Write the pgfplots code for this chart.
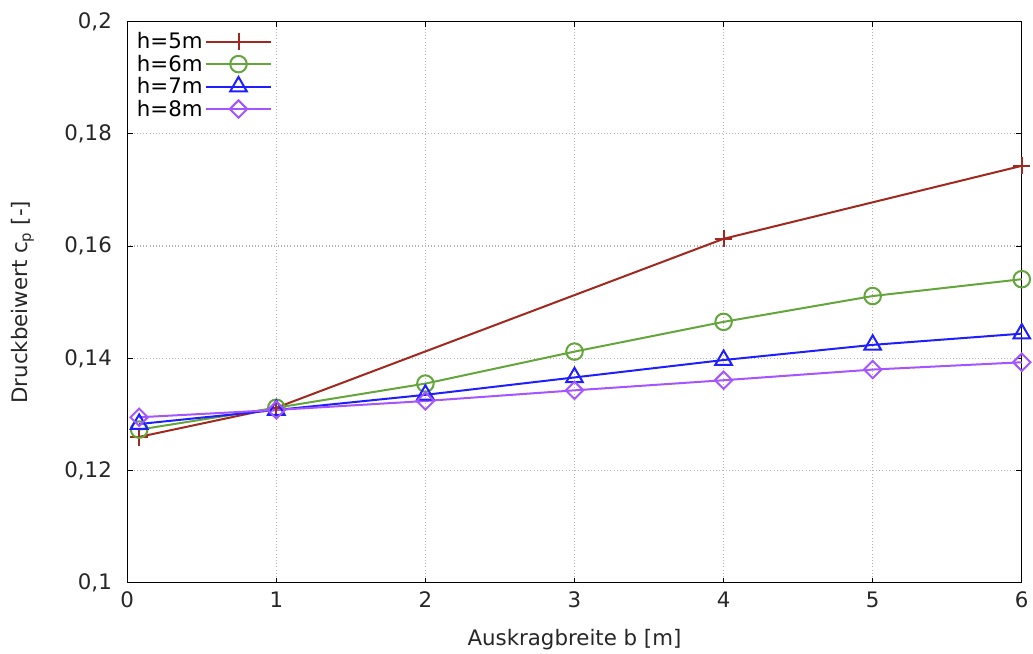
\documentclass[border=0pt]{standalone}
\usepackage{pgfplots}
\pgfplotsset{compat=1.18}
\usepackage{fontspec}
\setmainfont{DejaVu Sans}
\definecolor{c5}{RGB}{160,40,30}
\definecolor{c6}{RGB}{100,165,60}
\definecolor{c7}{RGB}{30,30,255}
\definecolor{c8}{RGB}{165,85,255}
\begin{document}
\begin{tikzpicture}
\begin{axis}[
  scale only axis,
  width=671pt, height=421pt,
  xmin=0, xmax=6, ymin=0.1, ymax=0.2,
  xtick={0,1,2,3,4,5,6},
  ytick={0.1,0.12,0.14,0.16,0.18,0.2},
  /pgf/number format/use comma,
  /pgf/number format/assume math mode=true,
  tick label style={font=\fontsize{16}{19}\selectfont, text=black!85},
  label style={font=\fontsize{16}{19}\selectfont, text=black!85},
  xlabel={Auskragbreite b [m]},
  ylabel={Druckbeiwert c\textsubscript{p} [-]},
  ylabel shift=16pt,
  xlabel shift=9pt,
  grid=major,
  major grid style={gray!60, dotted, line width=0.9pt},
  axis line style={black, line width=0.75pt},
  tick style={black, line width=0.6pt},
  tick align=inside,
  major tick length=4pt,
  xticklabel style={yshift=-3pt},
  yticklabel style={xshift=-8pt},
  legend cell align=left,
  legend plot pos=right,
  legend style={at={(rel axis cs:0.006,1)}, anchor=north west, yshift=-5pt, draw=none, fill=none,
    font=\fontsize{16}{19}\selectfont, row sep=-0.8pt, inner sep=1pt,
    nodes={inner sep=2pt}},
  legend image code/.code={
    \draw[mark repeat=2,mark phase=2] plot coordinates {(0cm,0cm) (0.85cm,0cm) (1.7cm,0cm)};
  },
  every axis plot/.append style={line width=1.5pt, mark options={solid, line width=1.5pt}},
]
\addplot[color=c5, mark=+, mark size=6.5pt] coordinates {
 (0.08,0.1260) (1,0.1312) (4,0.1613) (6,0.1743)};
\addlegendentry{h=5m}
\addplot[color=c6, mark=o, mark size=6.2pt] coordinates {
 (0.08,0.1273) (1,0.1312) (2,0.1355) (3,0.1412) (4,0.1465) (5,0.1511) (6,0.1541)};
\addlegendentry{h=6m}
\addplot[color=c7, mark=triangle, mark size=7.2pt] coordinates {
 (0.08,0.1283) (1,0.1308) (2,0.1335) (3,0.1366) (4,0.1397) (5,0.1424) (6,0.1444)};
\addlegendentry{h=7m}
\addplot[color=c8, mark=square, mark size=4.6pt, mark options={rotate=45}] coordinates {
 (0.08,0.1295) (1,0.1308) (2,0.1324) (3,0.1343) (4,0.1361) (5,0.1380) (6,0.1393)};
\addlegendentry{h=8m}
\end{axis}
\path (current bounding box.north west) ++(-5pt,6pt);
\end{tikzpicture}
\end{document}
